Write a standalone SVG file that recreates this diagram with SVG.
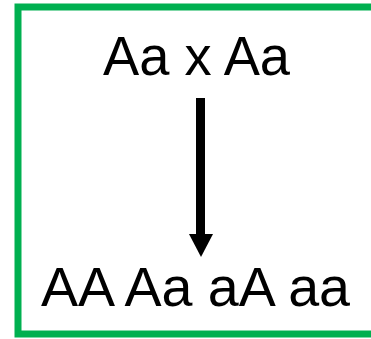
<svg xmlns="http://www.w3.org/2000/svg" width="371" height="339" viewBox="0 0 371 339">
<defs>
<style>
.t{font-family:"Liberation Sans",Arial,sans-serif;font-size:55px;fill:#000;text-anchor:middle}
</style>
</defs>
<rect x="0" y="0" width="371" height="339" fill="#fff"/>
<g id="frame"><rect x="18" y="7" width="400" height="327" fill="none" stroke="#00B050" stroke-width="7"/></g>
<g id="cross"><text class="t" x="196.5" y="75" textLength="187" lengthAdjust="spacingAndGlyphs">Aa x Aa</text></g>
<g id="offspring"><text class="t" x="195.5" y="306" textLength="309" lengthAdjust="spacingAndGlyphs">AA Aa aA aa</text></g>
<g id="connectors">
<line x1="200.5" y1="98" x2="200.5" y2="236" stroke="#000" stroke-width="9"/>
<path d="M189,234 L213,234 L201,257 Z" fill="#000"/>
</g>
</svg>
